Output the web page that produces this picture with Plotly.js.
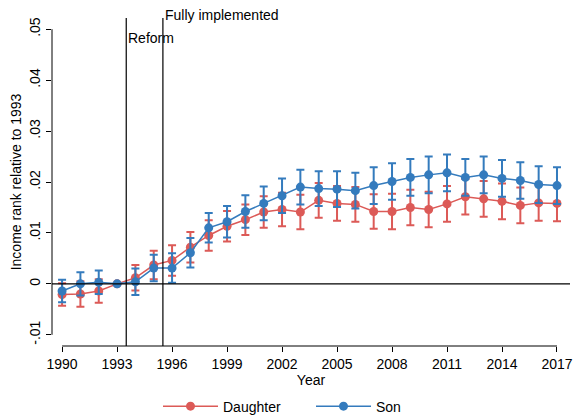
<!DOCTYPE html>
<html><head><meta charset="utf-8">
<script src="https://cdn.plot.ly/plotly-3.0.1.min.js"></script>
<style>body{margin:0}#c{width:574px;height:417px}</style></head>
<body><div id="c"></div>
<script>
const years = [1990,1991,1992,1993,1994,1995,1996,1997,1998,1999,2000,2001,2002,2003,2004,2005,2006,2007,2008,2009,2010,2011,2012,2013,2014,2015,2016,2017];
const daughter = [-0.0021,-0.0020,-0.0014,0,0.0012,0.0037,0.0046,0.0072,0.0095,0.0113,0.0126,0.0141,0.0146,0.0141,0.0164,0.0158,0.0156,0.0142,0.0142,0.0150,0.0146,0.0157,0.0171,0.0167,0.0162,0.0154,0.0159,0.0158];
const daughterCI = [0.0022,0.0025,0.0023,0,0.0025,0.0028,0.0030,0.0030,0.0030,0.0030,0.0030,0.0031,0.0033,0.0034,0.0034,0.0034,0.0034,0.0034,0.0035,0.0035,0.0035,0.0035,0.0035,0.0035,0.0035,0.0035,0.0035,0.0035];
const son = [-0.0014,0,0.0003,0,0.0004,0.0031,0.0031,0.0061,0.0110,0.0122,0.0142,0.0158,0.0173,0.0190,0.0187,0.0186,0.0183,0.0193,0.0201,0.0209,0.0214,0.0218,0.0209,0.0214,0.0207,0.0203,0.0195,0.0193];
const sonCI = [0.0022,0.0023,0.0023,0,0.0026,0.0026,0.0029,0.0029,0.0029,0.0031,0.0032,0.0033,0.0034,0.0034,0.0034,0.0035,0.0035,0.0036,0.0036,0.0036,0.0036,0.0036,0.0036,0.0036,0.0036,0.0036,0.0036,0.0036];
const yTicks = [-0.01,0,0.01,0.02,0.03,0.04,0.05];
const yLabels = ['-.01','0','.01','.02','.03','.04','.05'];
const xTicks = [1990,1993,1996,1999,2002,2005,2008,2011,2014,2017];
const red = '#dc5a57', blue = '#347bbd';
function tr(name, y, ci, c){
  return {x:years, y:y, name:name, type:'scatter', mode:'lines+markers',
    line:{color:c,width:1.5}, marker:{color:c,size:9},
    error_y:{type:'data', array:ci, color:c, thickness:2, width:4}};
}
const layout = {
  width:574, height:417, paper_bgcolor:'white', plot_bgcolor:'white',
  margin:{l:52,r:4,t:18,b:71, autoexpand:false},
  font:{family:'Liberation Sans, Arial', size:14, color:'#000'},
  showlegend:true,
  legend:{orientation:'h', x:0.5, xanchor:'center', yref:'container', y:0.025, yanchor:'middle', font:{size:14},
    itemwidth:55, entrywidth:83},
  xaxis:{automargin:false, range:[1989.45,2017.71], tickvals:xTicks, ticks:'outside', ticklen:5, tickcolor:'#000',
    showgrid:false, zeroline:false, showline:false, title:{text:'Year', standoff:0, font:{size:14}}},
  yaxis:{automargin:false, range:[-0.0122,0.0522], tickvals:yTicks, ticktext:yLabels, tickangle:-90, ticks:'outside', ticklen:5, tickcolor:'#000',
    showgrid:false, zeroline:false, showline:false, title:{text:'Income rank relative to 1993', standoff:2, font:{size:14}}},
  shapes:[
    {type:'line', xref:'x', yref:'paper', x0:1990, x1:2017, y0:0, y1:0, line:{color:'#000',width:1}},
    {type:'line', xref:'paper', yref:'y', x0:0, x1:0, y0:-0.01, y1:0.05, line:{color:'#000',width:1}},
    {type:'line', xref:'paper', yref:'y', x0:0, x1:1, y0:0, y1:0, line:{color:'#000',width:1.2}},
    {type:'line', xref:'x', yref:'paper', x0:1993.5, x1:1993.5, y0:0, y1:1, line:{color:'#000',width:1.2}},
    {type:'line', xref:'x', yref:'paper', x0:1995.5, x1:1995.5, y0:0, y1:1, line:{color:'#000',width:1.2}}
  ],
  annotations:[
    {xref:'x', yref:'paper', x:1993.5, y:0.97, text:'Reform', showarrow:false, xanchor:'left', yanchor:'top', xshift:0, font:{size:14}},
    {xref:'x', yref:'paper', x:1995.5, y:1.04, text:'Fully implemented', showarrow:false, xanchor:'left', yanchor:'top', xshift:0, font:{size:14}}
  ]
};
Plotly.newPlot('c',[tr('Daughter',daughter,daughterCI,red),tr('Son',son,sonCI,blue)],layout,{staticPlot:true});
</script></body></html>
